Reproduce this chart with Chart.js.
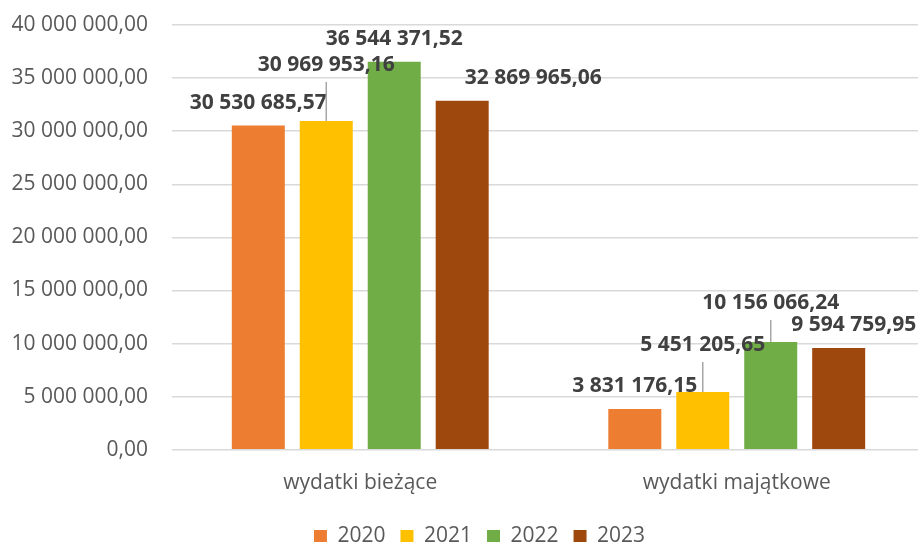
<!DOCTYPE html>
<html>
<head>
<meta charset="utf-8">
<script src="https://cdn.jsdelivr.net/npm/chart.js@4"></script>
<style>
  html, body { margin: 0; padding: 0; background: #fff; overflow: hidden; }
  #wrap { width: 925px; height: 542px; }
</style>
</head>
<body>
<div id="wrap"><canvas id="chart"></canvas></div>
<script>
const categories = ['wydatki bieżące', 'wydatki majątkowe'];
const years = ['2020', '2021', '2022', '2023'];
const values2020 = [30530685.57, 3831176.15];
const values2021 = [30969953.16, 5451205.65];
const values2022 = [36544371.52, 10156066.24];
const values2023 = [32869965.06, 9594759.95];
const yTicks = { min: 0, max: 40000000, step: 5000000 };

const colors = ['#ED7D31', '#FFC000', '#70AD47', '#9E480E'];

// label nudges [dx, dy, leader line] per series, per category
const labelShift = [
    [[0, 0, false], [0, 0, false]],
    [[0, -33, true], [0, -24, true]],
    [[0, 0, false], [0, -16, true]],
    [[71, 0, false], [15, 0, false]]
];

function plNumber(v) {
    const parts = Number(v).toFixed(2).split('.');
    const intPart = parts[0].replace(/\B(?=(\d{3})+(?!\d))/g, ' ');
    return intPart + ',' + parts[1];
}

const FONT = "'Open Sans', sans-serif";

const barLabels = {
    id: 'barLabels',
    afterDatasetsDraw(chart) {
        const ctx = chart.ctx;
        ctx.save();
        ctx.font = 'bold 21px ' + FONT;
        ctx.textAlign = 'center';
        ctx.textBaseline = 'alphabetic';
        chart.data.datasets.forEach((ds, i) => {
            const meta = chart.getDatasetMeta(i);
            meta.data.forEach((bar, j) => {
                const s = labelShift[i][j];
                const cy = bar.y - 24 + s[1];
                const cx = bar.x + s[0];
                if (s[2]) {
                    ctx.strokeStyle = '#a6a6a6';
                    ctx.lineWidth = 1.5;
                    ctx.beginPath();
                    ctx.moveTo(bar.x, cy + 18);
                    ctx.lineTo(bar.x, bar.y);
                    ctx.stroke();
                }
                ctx.fillStyle = '#404040';
                ctx.fillText(plNumber(ds.data[j]), cx, cy + 7);
            });
        });
        ctx.restore();
    }
};

// nudge the legend a little to the right, like the original
const legendShift = {
    id: 'legendShift',
    afterLayout(chart) {
        if (chart.legend) {
            chart.legend.left += 12;
            chart.legend.right += 12;
        }
    }
};

const seriesValues = [values2020, values2021, values2022, values2023];

new Chart(document.getElementById('chart'), {
    type: 'bar',
    data: {
        labels: categories,
        datasets: years.map((y, i) => ({
            label: y,
            data: seriesValues[i],
            backgroundColor: colors[i],
            borderWidth: 0,
            categoryPercentage: 0.722,
            barPercentage: 0.78
        }))
    },
    options: {
        responsive: true,
        maintainAspectRatio: false,
        animation: false,
        layout: { padding: { left: 10, right: 0, top: 25, bottom: -15 } },
        scales: {
            y: {
                min: yTicks.min,
                max: yTicks.max,
                border: { display: false },
                grid: { color: '#d9d9d9', lineWidth: 1.5, drawTicks: false },
                afterFit: scale => { scale.width = 162; scale.paddingTop = 0; },
                ticks: {
                    stepSize: yTicks.step,
                    padding: 24,
                    color: '#595959',
                    font: { family: FONT, size: 21 },
                    callback: v => plNumber(v)
                }
            },
            x: {
                border: { display: false },
                grid: { display: false, drawTicks: false },
                afterFit: scale => { scale.height -= 6; },
                ticks: {
                    padding: 21,
                    color: '#595959',
                    font: { family: FONT, size: 21 }
                }
            }
        },
        plugins: {
            legend: {
                position: 'bottom',
                labels: {
                    boxWidth: 13,
                    boxHeight: 13,
                    padding: 15,
                    color: '#595959',
                    font: { family: FONT, size: 21 }
                }
            },
            tooltip: { enabled: false }
        }
    },
    plugins: [barLabels, legendShift]
});
</script>
</body>
</html>
